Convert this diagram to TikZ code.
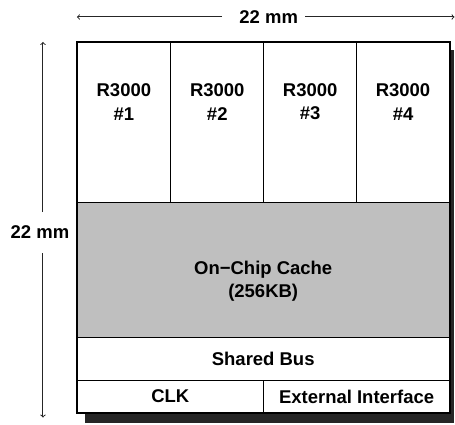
\documentclass[tikz,border=0pt]{standalone}
\usepackage{fontspec}
\setmainfont{Liberation Sans}
\usetikzlibrary{arrows}
\tikzstyle{cell} = [font=\fontsize{18.5}{23.5}\selectfont\bfseries, align=center, inner sep=3pt]
\tikzstyle{dim} = [->, >=to, draw=black!85, line width=1pt]
\tikzstyle{outline} = [line width=2pt]
\tikzstyle{divider} = [line width=0.9pt]
\tikzstyle{shadow} = [fill=black!85]

\begin{document}
\begin{tikzpicture}[x=1pt,y=-1pt]
\path (0,0) rectangle (455,425);
% drop shadow
\path[shadow] (85,50) rectangle (454.5,423);
% chip area
\fill[white] (77,42) rectangle (450,413);
\fill[gray!50] (77,203) rectangle (450,338);
% inner divisions
\draw[divider] (171,42) -- (171,203);
\draw[divider] (264,42) -- (264,203);
\draw[divider] (357,42) -- (357,203);
\draw[divider] (77,203) -- (450,203);
\draw[divider] (77,338) -- (450,338);
\draw[divider] (77,381) -- (450,381);
\draw[divider] (264,381) -- (264,413);
\draw[outline] (77,42) rectangle (450,413);
% labels
\node[cell] (cpu1) at (124,102) {R3000\\\#1};
\node[cell] (cpu2) at (217.5,102) {R3000\\\#2};
\node[cell] (cpu3) at (310.5,102) {R3000\\\#3};
\node[cell] (cpu4) at (403.5,102) {R3000\\\#4};
\node[cell] (cache) at (263.5,281.5) {On−Chip Cache\\(256KB)};
\node[cell] (bus) at (263.5,359.5) {Shared Bus};
\node[cell] (clk) at (170.5,397) {CLK};
\node[cell] (ext) at (357,397) {External Interface};
% dimensions
\coordinate (wl) at (77,17);
\coordinate (wr) at (455,17);
\coordinate (ht) at (43,42);
\coordinate (hb) at (43,418);
\node[cell] (width) at (269,17) {22 mm};
\node[cell] (height) at (40,232) {22 mm};
\draw[dim] ([xshift=-14pt]width.west) -- (wl);
\draw[dim] ([xshift=4pt]width.east) -- (wr);
\draw[dim] ([yshift=10pt]ht |- height.north) -- (ht);
\draw[dim] ([yshift=-12pt]hb |- height.south) -- (hb);
\end{tikzpicture}
\end{document}
